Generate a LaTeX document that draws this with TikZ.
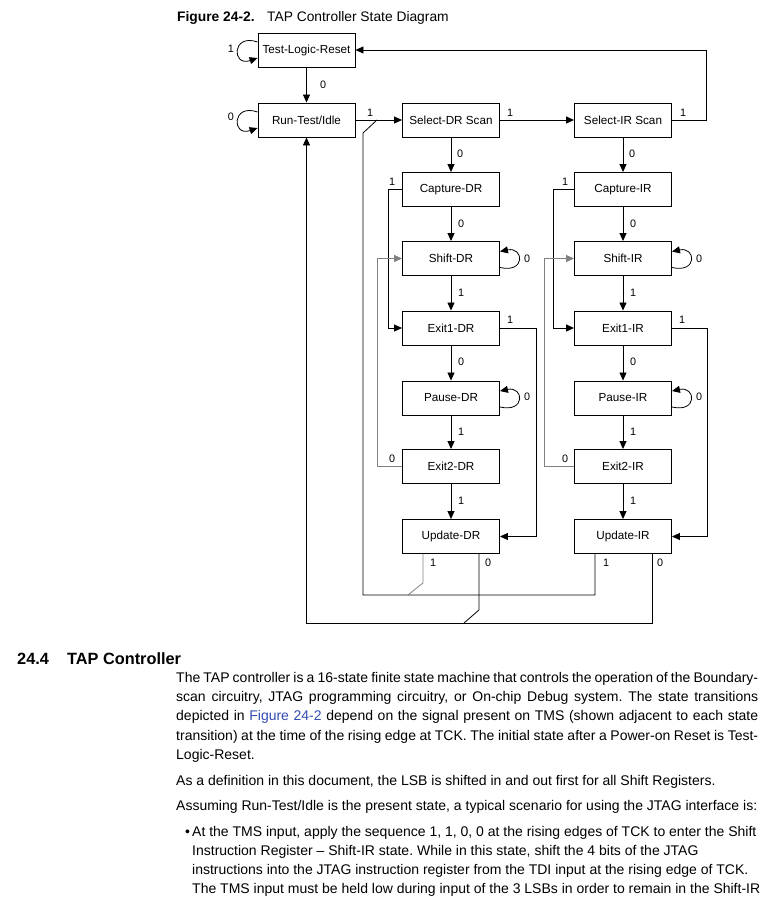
\documentclass[tikz,border=0pt]{standalone}
\usepackage{fontspec}
\setmainfont{Liberation Sans}
\usetikzlibrary{arrows.meta,calc}
\definecolor{linkblue}{RGB}{51,76,178}
\frenchspacing
\begin{document}
\begin{tikzpicture}[x=1pt,y=-1pt,
  state/.style={draw,line width=0.9pt,minimum width=97pt,minimum height=34pt,inner sep=0pt,font=\fontsize{11.7}{14}\selectfont},
  lbl/.style={font=\fontsize{10.8}{12}\selectfont,inner sep=0pt},
  arr/.style={line width=0.8pt,-{Triangle[length=8pt,width=7pt]}},
  ln/.style={line width=0.8pt},
  gr/.style={draw=black!50},
  body/.style={anchor=base west,inner sep=0pt,font=\frenchspacing\fontsize{14}{16}\selectfont},
]
\useasboundingbox (0,0) rectangle (773,905);

% title
\node[anchor=base west,inner sep=0pt,font=\bfseries\fontsize{13.8}{16}\selectfont] (fig) at (177,21) {Figure 24-2.};
\node[anchor=base west,inner sep=0pt,font=\fontsize{13.8}{16}\selectfont] (title) at (267,21) {TAP Controller State Diagram};

% states
\node[state] (tlr) at (306.5,50) {Test-Logic-Reset};
\node[state] (rti) at (306.5,120) {Run-Test/Idle};
\node[state] (seldr) at (451,120) {Select-DR Scan};
\node[state] (selir) at (623,120) {Select-IR Scan};
\node[state] (capdr) at (451,189.5) {Capture-DR};
\node[state] (shdr) at (451,258.5) {Shift-DR};
\node[state] (exadr) at (451,328) {Exit1-DR};
\node[state] (padr) at (451,398) {Pause-DR};
\node[state] (exbdr) at (451,466.5) {Exit2-DR};
\node[state] (updr) at (451,536.5) {Update-DR};
\node[state] (capir) at (623,189.5) {Capture-IR};
\node[state] (shir) at (623,258.5) {Shift-IR};
\node[state] (exair) at (623,328) {Exit1-IR};
\node[state] (pair) at (623,398) {Pause-IR};
\node[state] (exbir) at (623,466.5) {Exit2-IR};
\node[state] (upir) at (623,536.5) {Update-IR};

% main flow
\draw[arr] (tlr) -- (rti);
\draw[arr] (rti) -- (seldr);
\draw[arr] (seldr) -- (selir);
\draw[arr] (selir.east) -- ++(34,0) |- (tlr.east);
\foreach \a/\b in {seldr/capdr,capdr/shdr,shdr/exadr,exadr/padr,padr/exbdr,exbdr/updr,
                   selir/capir,capir/shir,shir/exair,exair/pair,pair/exbir,exbir/upir}
  \draw[arr] (\a) -- (\b);

% side paths
\draw[arr] (capdr.west) -- ++(-14,0) |- (exadr.west);
\draw[arr] (capir.west) -- ++(-21,0) |- (exair.west);
\draw[arr,gr] (exbdr.west) -- ++(-25,0) |- (shdr.west);
\draw[arr,gr] (exbir.west) -- ++(-30,0) |- (shir.west);
\draw[arr] (exadr.east) -- ++(36,0) |- (updr.east);
\draw[arr] (exair.east) -- ++(35,0) |- (upir.east);

% self loops
\draw[arr] ($(tlr.west)+(0,-8)$) .. controls +(-26,-9) and +(-26,9) .. ($(tlr.west)+(0,8)$);
\draw[arr] ($(rti.west)+(0,-8)$) .. controls +(-26,-9) and +(-26,9) .. ($(rti.west)+(0,8)$);
\foreach \s in {shdr,padr,shir,pair}
  \draw[arr] ($(\s.east)+(0,9)$) .. controls +(26,6) and +(24,-5) .. ($(\s.east)+(0,-7)$);

% return paths
\coordinate (ja) at (363,595);
\coordinate (jb) at (363,133);
\coordinate (jc) at (377,120);
\draw[ln] ($(upir.south)+(-28,0)$) |- (ja) -- (jb) -- (jc);
\draw[ln,gr] ($(updr.south)+(-28,0)$) -- ++(0,29) -- (408,595);
\coordinate (jd) at (306.5,623);
\draw[arr] ($(upir.south)+(29,0)$) |- (jd) -- (rti.south);
\draw[ln] ($(updr.south)+(28,0)$) -- ++(0,56) -- (464,623);

% labels
\foreach \x/\y/\t in {231/49/1, 231/117/0, 323/85/0, 370/113/1, 510/113/1, 683/113/1,
  460/154/0, 632/154/0, 392/182/1, 565/182/1, 461/224/0, 633/224/0,
  527/259/0, 699/259/0, 461/293/1, 633/293/1, 510/320/1, 682/320/1,
  461/362/0, 633/362/0, 527/397/0, 699/397/0, 461/432/1, 633/432/1,
  392/459/0, 565/459/0, 461/501/1, 633/501/1,
  433/563/1, 488/563/0, 606/563/1, 660/563/0}
  \node[lbl] at (\x,\y) {\t};

% section text
\node[anchor=base west,inner sep=0pt,font=\bfseries\fontsize{16.3}{18}\selectfont] (hnum) at (17,664) {24.4};
\node[anchor=base west,inner sep=0pt,font=\bfseries\fontsize{16.3}{18}\selectfont] (head) at (67,664) {TAP Controller};
\node[body] (l1) at (176,682.5) {\makebox[582pt][s]{The TAP controller is a 16-state finite state machine that controls the operation of the Boundary-}};
\node[body] (l2) at (176,701.5) {\makebox[582pt][s]{scan circuitry, JTAG programming circuitry, or On-chip Debug system. The state transitions}};
\node[body] (l3) at (176,720.5) {\makebox[582pt][s]{depicted in \textcolor{linkblue}{Figure 24-2} depend on the signal present on TMS (shown adjacent to each state}};
\node[body] (l4) at (176,740.5) {\makebox[582pt][s]{transition) at the time of the rising edge at TCK. The initial state after a Power-on Reset is Test-}};
\node[body] (l5) at (176,759.5) {Logic-Reset.};
\node[body] (p2) at (176,785.5) {As a definition in this document, the LSB is shifted in and out first for all Shift Registers.};
\node[body] (p3) at (176,810.5) {Assuming Run-Test/Idle is the present state, a typical scenario for using the JTAG interface is:};
\node[body] (bu) at (185,836.5) {\textbullet};
\node[body] (b1) at (192,836.5) {At the TMS input, apply the sequence 1, 1, 0, 0 at the rising edges of TCK to enter the Shift};
\node[body] (b2) at (192,855.5) {Instruction Register – Shift-IR state. While in this state, shift the 4 bits of the JTAG};
\node[body] (b3) at (192,874.5) {instructions into the JTAG instruction register from the TDI input at the rising edge of TCK.};
\node[body] (b4) at (192,893.5) {The TMS input must be held low during input of the 3 LSBs in order to remain in the Shift-IR};
\end{tikzpicture}
\end{document}
